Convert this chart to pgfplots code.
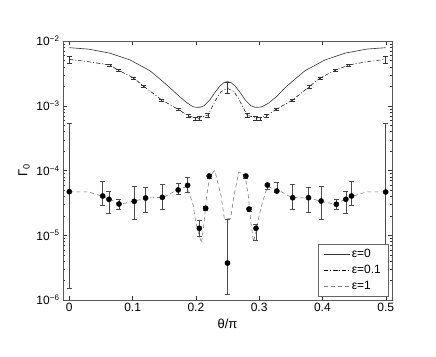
\documentclass[border=0pt]{standalone}
\usepackage{fontspec}
\setmainfont{Liberation Sans}
\usepackage{pgfplots}
\pgfplotsset{compat=1.18}
\begin{document}
\begin{tikzpicture}
\path (-63pt,-56pt) rectangle (373pt,300pt);
\begin{axis}[
scale only axis,
width=329pt,
height=259pt,
ymode=log,
xmin=-0.01, xmax=0.51,
ymin=1e-6, ymax=1e-2,
xtick={0,0.1,0.2,0.3,0.4,0.5},
xticklabels={0,0.1,0.2,0.3,0.4,0.5},
ytick={1e-6,1e-5,1e-4,1e-3,1e-2},
minor ytick={2e-6,3e-6,4e-6,5e-6,6e-6,7e-6,8e-6,9e-6,
  2e-5,3e-5,4e-5,5e-5,6e-5,7e-5,8e-5,9e-5,
  2e-4,3e-4,4e-4,5e-4,6e-4,7e-4,8e-4,9e-4,
  2e-3,3e-3,4e-3,5e-3,6e-3,7e-3,8e-3,9e-3},
yticklabels={10\textsuperscript{−6},10\textsuperscript{−5},10\textsuperscript{−4},10\textsuperscript{−3},10\textsuperscript{−2}},
tick label style={font=\fontsize{12}{14}\selectfont},
label style={font=\fontsize{13}{15}\selectfont},
xlabel={θ/π},
ylabel={Γ\textsubscript{0}},
axis line style={gray!70!black, line width=0.8pt},
tick style={black!80},
major tick length=4pt,
minor tick length=2.5pt,
legend style={at={(0.988,0.015)}, anchor=south east, draw=gray!80!black, fill=white,
  font=\fontsize{12}{14}\selectfont, row sep=2pt, inner xsep=5pt, inner ysep=3pt,
  cells={anchor=west}},
legend image post style={xscale=1.5},
]
% epsilon = 0
\addplot[gray!40!black, line width=0.6pt] coordinates {
(0,7.89e-3) (0.03,7.5e-3) (0.064,6.5e-3) (0.096,5.1e-3) (0.127,3.5e-3)
(0.145,2.5e-3) (0.159,1.9e-3) (0.172,1.45e-3) (0.185,1.13e-3) (0.195,9.7e-4)
(0.201,9.46e-4) (0.207,9.5e-4) (0.213,1.0e-3) (0.222,1.23e-3) (0.23,1.6e-3)
(0.238,2.02e-3) (0.245,2.3e-3) (0.25,2.36e-3) (0.255,2.3e-3) (0.262,2.02e-3)
(0.27,1.6e-3) (0.278,1.23e-3) (0.287,1.0e-3) (0.293,9.5e-4) (0.299,9.46e-4)
(0.305,9.7e-4) (0.315,1.1e-3) (0.328,1.4e-3) (0.341,1.9e-3) (0.355,2.5e-3)
(0.373,3.5e-3) (0.404,5.1e-3) (0.436,6.5e-3) (0.47,7.5e-3) (0.5,7.89e-3)};
\addlegendentry{ε=0}
% epsilon = 0.1
\addplot[black, dash pattern=on 4pt off 2pt on 1pt off 2pt, line width=0.5pt] coordinates {
(0,5.21e-3) (0.03,4.79e-3) (0.064,4.26e-3) (0.077,3.56e-3) (0.101,2.71e-3)
(0.117,2.02e-3) (0.146,1.23e-3) (0.172,8.81e-4) (0.188,6.95e-4) (0.205,6.40e-4)
(0.219,7.19e-4) (0.232,1.26e-3) (0.24,1.66e-3) (0.25,1.86e-3) (0.26,1.66e-3)
(0.268,1.26e-3) (0.281,7.19e-4) (0.295,6.40e-4) (0.311,6.95e-4) (0.327,8.81e-4)
(0.353,1.23e-3) (0.379,1.97e-3) (0.397,2.71e-3) (0.421,3.56e-3) (0.442,4.26e-3)
(0.47,4.79e-3) (0.5,5.21e-3)};
\addlegendentry{ε=0.1}
% epsilon = 1
\addplot[gray, dash pattern=on 4pt off 3pt, line width=0.6pt] coordinates {
(0,4.68e-5) (0.03,4.68e-5) (0.05,4.07e-5) (0.065,3.55e-5) (0.08,3.02e-5)
(0.1,3.31e-5) (0.12,3.72e-5) (0.15,3.89e-5) (0.17,5.01e-5) (0.185,5.62e-5)
(0.195,3.16e-5) (0.2,1.58e-5) (0.205,1.0e-5) (0.209,7.59e-6) (0.213,1.58e-5)
(0.217,3.98e-5) (0.222,8.32e-5) (0.23,1.0e-4) (0.24,3.98e-5) (0.245,1.82e-5)
(0.255,1.82e-5) (0.26,3.98e-5) (0.268,9.55e-5) (0.278,8.32e-5) (0.283,3.98e-5)
(0.287,1.58e-5) (0.291,7.94e-6) (0.295,1.12e-5) (0.3,2.0e-5) (0.305,3.16e-5)
(0.313,5.62e-5) (0.33,5.01e-5) (0.35,3.89e-5) (0.38,3.72e-5) (0.4,3.31e-5)
(0.42,3.02e-5) (0.435,3.55e-5) (0.45,4.07e-5) (0.47,4.68e-5) (0.5,4.68e-5)};
\addlegendentry{ε=1}
% epsilon = 0.1 error bars
\addplot[draw=none, mark=none, forget plot,
  error bars/.cd, y dir=both, y explicit,
  error bar style={black!80, line width=0.5pt}, error mark options={rotate=90, mark size=2.5pt, black!80}]
coordinates {
(0,5.21e-3) +- (0,0.7e-3)
(0.064,4.26e-3) +- (0,0.15e-3)
(0.077,3.56e-3) +- (0,0.12e-3)
(0.101,2.71e-3) +- (0,0.1e-3)
(0.117,2.02e-3) +- (0,0.08e-3)
(0.146,1.23e-3) +- (0,0.05e-3)
(0.172,8.81e-4) +- (0,0.4e-4)
(0.188,6.95e-4) +- (0,0.4e-4)
(0.199,6.30e-4) +- (0,0.4e-4)
(0.205,6.40e-4) +- (0,0.4e-4)
(0.219,7.19e-4) +- (0,0.5e-4)
(0.25,1.95e-3) +- (0,0.4e-3)
(0.281,7.19e-4) +- (0,0.5e-4)
(0.295,6.40e-4) +- (0,0.4e-4)
(0.301,6.30e-4) +- (0,0.4e-4)
(0.311,6.95e-4) +- (0,0.4e-4)
(0.327,8.81e-4) +- (0,0.4e-4)
(0.353,1.23e-3) +- (0,0.05e-3)
(0.379,1.97e-3) +- (0,0.08e-3)
(0.397,2.71e-3) +- (0,0.1e-3)
(0.421,3.56e-3) +- (0,0.12e-3)
(0.442,4.26e-3) +- (0,0.15e-3)
(0.5,5.21e-3) +- (0,0.7e-3)};
% epsilon = 1 data points
\addplot[only marks, mark=*, mark size=2.6pt, black, forget plot,
  error bars/.cd, y dir=both, y explicit,
  error bar style={black!70, line width=0.6pt}, error mark options={rotate=90, mark size=2.5pt, black!70}]
coordinates {
(0,4.71e-5) += (0,4.89e-4) -= (0,4.56e-5)
(0.0527,4.04e-5) += (0,2.83e-5) -= (0,1.14e-5)
(0.0627,3.59e-5) += (0,1.12e-5) -= (0,1.40e-5)
(0.0785,3.04e-5) += (0,0.55e-5) -= (0,0.47e-5)
(0.1026,3.34e-5) += (0,2.41e-5) -= (0,1.54e-5)
(0.1206,3.76e-5) += (0,1.86e-5) -= (0,1.45e-5)
(0.147,3.85e-5) += (0,2.27e-5) -= (0,1.34e-5)
(0.172,5.01e-5) += (0,1.30e-5) -= (0,0.74e-5)
(0.187,5.90e-5) += (0,1.86e-5) -= (0,1.22e-5)
(0.2055,1.28e-5) += (0,0.42e-5) -= (0,0.30e-5)
(0.2155,2.61e-5) += (0,0.2e-5) -= (0,0.2e-5)
(0.221,8.22e-5) += (0,0.6e-5) -= (0,0.6e-5)
(0.25,3.72e-6) += (0,1.39e-5) -= (0,2.50e-6)
(0.279,8.22e-5) += (0,0.6e-5) -= (0,0.6e-5)
(0.284,2.54e-5) += (0,0.2e-5) -= (0,0.2e-5)
(0.295,1.28e-5) += (0,0.2e-5) -= (0,0.43e-5)
(0.313,5.97e-5) += (0,0.49e-5) -= (0,0.84e-5)
(0.328,4.82e-5) += (0,1.67e-5) -= (0,0.25e-5)
(0.353,3.80e-5) += (0,2.37e-5) -= (0,1.29e-5)
(0.378,3.80e-5) += (0,1.82e-5) -= (0,1.49e-5)
(0.398,3.38e-5) += (0,2.37e-5) -= (0,1.58e-5)
(0.422,3.01e-5) += (0,0.58e-5) -= (0,0.44e-5)
(0.437,3.59e-5) += (0,1.12e-5) -= (0,1.40e-5)
(0.446,4.04e-5) += (0,2.83e-5) -= (0,1.14e-5)
(0.5,4.66e-5) += (0,4.89e-4) -= (0,4.51e-5)};
\end{axis}
\end{tikzpicture}
\end{document}
